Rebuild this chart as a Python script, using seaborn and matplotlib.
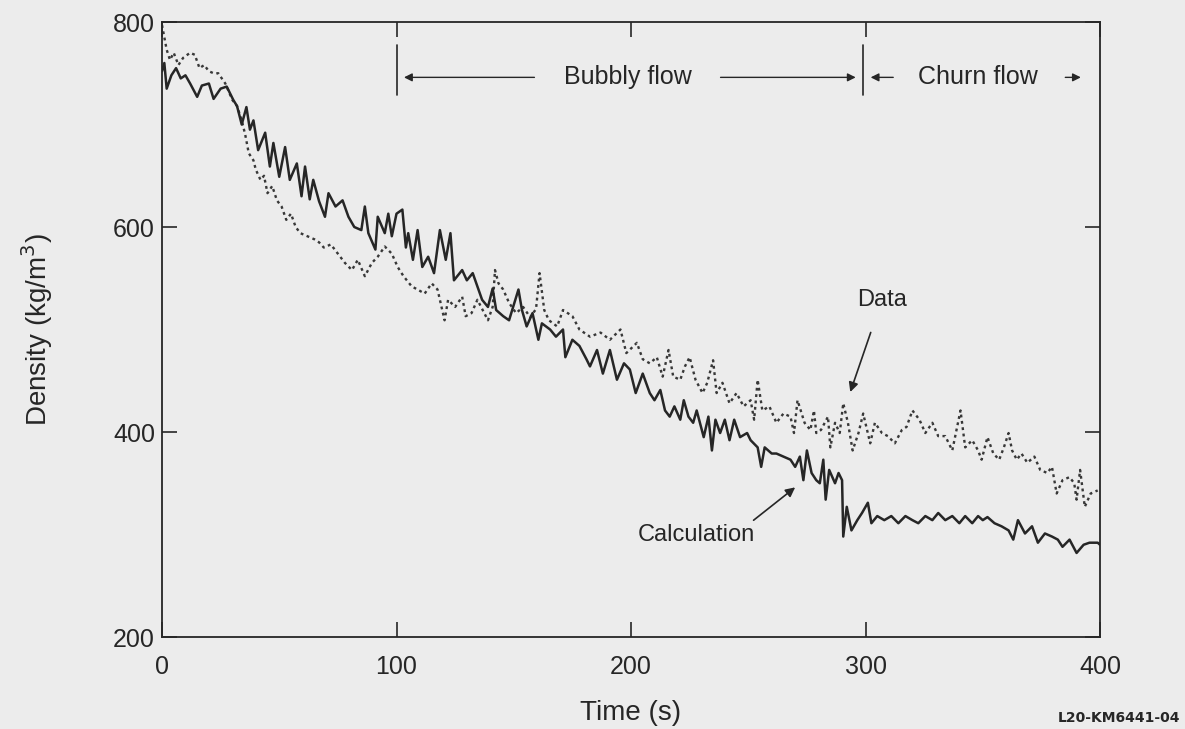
import matplotlib
matplotlib.use("Agg")
import matplotlib.pyplot as plt
import seaborn as sns
import pandas as pd

# ---- Calculation (solid line) ----
calc_t = [0, 1, 2, 4, 6, 8, 10, 12, 15, 17, 20, 22, 25, 27.6, 30.4, 32, 34, 36, 37.5, 39,
          41, 44, 46, 47.5, 50, 52.5, 54.5, 57.5, 59.5, 61, 63, 64.5, 67, 69.5, 71, 74, 77, 79.5,
          82, 85, 86.5, 88, 91, 92, 95, 96.5, 98, 100, 102.5, 104, 105, 107, 109, 111, 113.5,
          116, 118.5, 121, 123, 124.5, 128, 130, 132.5, 136.5, 139, 141, 142.5, 145.5, 148,
          152, 153.5, 155.5, 158, 160.5, 162, 165.5, 168, 171, 172, 175, 178, 181, 182.5, 185.5,
          188, 191, 194, 197, 199.5, 202, 205, 208, 210, 212.5, 214.5, 216.5, 218.5, 221, 222.5,
          224.5, 226.5, 228, 231, 233, 234.5, 236, 238, 240, 242, 244, 246.5, 249.5, 251, 254,
          255.5, 257, 260, 262, 265, 268, 270, 272, 273.5, 275, 277, 279, 280.5, 282, 283, 284.5,
          287, 288.5, 290, 290.5, 292, 294, 296.5, 298.5, 301, 302.5, 305, 308, 311, 314, 317,
          320, 322.5, 325.5, 328.5, 331, 334, 337, 340, 342.5, 345.5, 348, 350, 352, 355, 358,
          361, 363, 365, 368, 371, 373.5, 376.5, 379.5, 382, 384, 387, 390, 393, 395.5, 399, 400]
calc_v = [752, 760, 735, 748, 755, 745, 748, 740, 727, 738, 740, 725, 735, 737, 724, 718, 700, 717, 695, 704,
          675, 692, 659, 682, 649, 678, 646, 662, 630, 659, 627, 646, 625, 610, 633, 620, 626, 610,
          600, 597, 620, 594, 578, 610, 594, 613, 591, 613, 617, 580, 594, 568, 597, 561, 571,
          555, 597, 568, 594, 548, 558, 548, 555, 529, 522, 540, 519, 513, 509,
          539, 519, 503, 516, 490, 506, 500, 493, 500, 473, 490, 484, 471, 464, 480,
          457, 480, 451, 467, 461, 438, 457, 438, 431, 441, 421, 415, 425, 412, 431,
          415, 409, 421, 395, 415, 382, 412, 399, 412, 392, 412, 395, 399, 392, 385,
          366, 385, 379, 379, 376, 373, 366, 376, 353, 382, 360, 353, 350, 373, 334, 363,
          350, 360, 353, 298, 327, 304, 314, 321, 331, 311, 318, 314, 318, 311, 318,
          314, 311, 318, 314, 321, 314, 318, 311, 318, 311, 318, 314, 317, 311, 308,
          304, 295, 314, 301, 308, 292, 301, 298, 295, 288, 295, 282, 290, 292, 292, 290]

# ---- Data (dotted line) ----
data_t = [0, 1, 2, 3.4, 5, 7, 9, 12, 14, 16, 18, 20, 22, 24, 27, 30, 32, 34, 35.5, 37, 39, 40, 42,
          43.5, 45, 47, 49, 51, 53, 55, 57, 59, 62, 65, 67, 69, 72, 75, 78, 81, 83.5, 86.5, 89.5,
          92, 95, 98, 100.5, 103, 106.5, 109, 112, 115, 117.5, 120.5, 122, 125, 128, 129.5, 132,
          134.5, 137, 139, 141, 142, 143.5, 145.5, 148, 151, 154, 157, 159.5, 161, 163, 165,
          168.5, 171, 175, 178, 182.5, 187, 191, 195.5, 198, 202.5, 205, 208, 211, 213.5, 216,
          218, 221, 223, 225, 227.5, 230.5, 232.5, 235, 236.5, 239, 242, 245, 248, 251, 252.5,
          254, 256, 259, 262, 265, 268, 269.5, 271, 274, 276.5, 278, 279, 281, 284, 285, 287,
          289, 290.5, 292.5, 294.5, 297, 299, 302, 304, 307, 309.5, 312.5, 315.5, 317.5, 320,
          323, 325.5, 328.5, 331, 334, 337, 340.5, 342.5, 345.5, 348, 349.5, 352, 354.5, 357,
          359, 361, 362.5, 364.5, 366.5, 369, 372, 374.5, 377.5, 379.5, 381.5, 384, 387, 389,
          390, 391.5, 393.5, 396, 399]
data_v = [797, 785, 773, 763, 770, 758, 765, 770, 768, 755, 758, 752, 750, 750, 740, 724, 718, 704, 690, 672, 665, 656, 646,
          650, 633, 640, 626, 620, 607, 613, 600, 594, 591, 588, 585, 580, 583, 574, 565, 558, 568, 552, 565,
          571, 581, 574, 561, 552, 542, 539, 535, 545, 539, 509, 529, 522, 532, 513, 516,
          529, 518, 509, 522, 558, 545, 539, 526, 516, 522, 512, 520, 555, 519, 509,
          503, 519, 513, 500, 493, 497, 490, 500, 477, 487, 471, 467, 473, 454, 480,
          454, 451, 464, 473, 451, 438, 448, 470, 438, 448, 428, 438, 425, 431, 412,
          451, 421, 425, 409, 418, 415, 399, 431, 409, 402, 421, 399, 402, 415, 385, 409,
          399, 428, 409, 382, 399, 418, 389, 409, 399, 396, 389, 402, 405, 421,
          412, 399, 409, 396, 396, 382, 421, 385, 392, 382, 373, 395, 379, 373,
          385, 399, 382, 373, 379, 370, 376, 363, 360, 366, 340, 353, 356, 350,
          334, 363, 327, 340, 343]

x_ticks = [0, 100, 200, 300, 400]
y_ticks = [200, 400, 600, 800]

sns.set_theme(style="ticks")
plt.rcParams["font.family"] = ["Liberation Sans", "DejaVu Sans"]

bg = "#ececec"
ink = "#262626"
fig = plt.figure(figsize=(11.85, 7.29), dpi=100, facecolor=bg)
ax = fig.add_axes([0.1367, 0.1262, 0.7916, 0.8436], facecolor=bg)

calc_df = pd.DataFrame({"Time": calc_t, "Density": calc_v})
data_df = pd.DataFrame({"Time": data_t, "Density": data_v})

sns.lineplot(data=data_df, x="Time", y="Density", ax=ax, estimator=None, sort=False,
             color="#383838", linewidth=1.7, linestyle=(0, (1.2, 1.5)))
sns.lineplot(data=calc_df, x="Time", y="Density", ax=ax, estimator=None, sort=False,
             color=ink, linewidth=1.8)

ax.set_xlim(0, 400)
ax.set_ylim(200, 800)
ax.set_xticks(x_ticks)
ax.set_yticks(y_ticks)
ax.set_xticklabels([str(v) for v in x_ticks])
ax.set_yticklabels([str(v) for v in y_ticks])
ax.tick_params(axis="both", direction="in", length=11, width=1.2, colors=ink,
               top=True, right=True, labelsize=18)
ax.tick_params(axis="x", pad=13)
ax.tick_params(axis="y", pad=5)
for s in ax.spines.values():
    s.set_color(ink)
    s.set_linewidth(1.3)

ax.set_xlabel("Time (s)", fontsize=20, color=ink, labelpad=15)
ax.set_ylabel("Density (kg/m$^3$)", fontsize=20, color=ink, labelpad=42)

# Flow regime annotations
ax.plot([100, 100], [729, 778], color=ink, lw=1.2)
ax.plot([299, 299], [729, 778], color=ink, lw=1.2)
arrow_kw = dict(arrowstyle="-|>", color=ink, lw=1.0, mutation_scale=12)
ax.annotate("", xy=(102, 746), xytext=(160, 746), arrowprops=arrow_kw)
ax.annotate("", xy=(297, 746), xytext=(237, 746), arrowprops=arrow_kw)
ax.text(198.5, 746, "Bubbly flow", fontsize=18, color=ink, ha="center", va="center")
ax.annotate("", xy=(301, 746), xytext=(313, 746), arrowprops=arrow_kw)
ax.annotate("", xy=(393, 746), xytext=(384, 746), arrowprops=arrow_kw)
ax.text(348, 746, "Churn flow", fontsize=18, color=ink, ha="center", va="center")

# Series labels
ax.annotate("Data", xy=(293.5, 439), xytext=(307, 529), fontsize=17, color=ink,
            ha="center", va="center",
            arrowprops=dict(arrowstyle="-|>", color=ink, lw=1.2, mutation_scale=14,
                            shrinkA=14, shrinkB=0))
ax.annotate("Calculation", xy=(270, 346), xytext=(228, 300), fontsize=17, color=ink,
            ha="center", va="center",
            arrowprops=dict(arrowstyle="-|>", color=ink, lw=1.2, mutation_scale=14,
                            shrinkA=0, shrinkB=0, relpos=(0.95, 1.0)))

fig.text(0.996, 0.006, "L20-KM6441-04", fontsize=10, color=ink, ha="right", va="bottom",
         family=["DejaVu Sans"], fontweight="bold")

fig.savefig("out.png", dpi=100, facecolor=bg)
